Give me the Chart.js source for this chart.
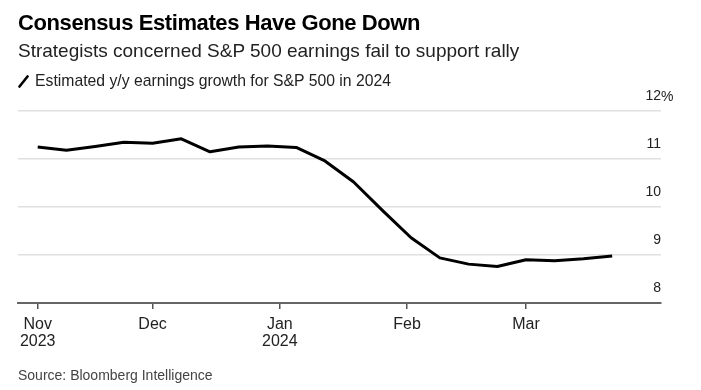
<!DOCTYPE html>
<html>
<head>
<meta charset="utf-8">
<script src="https://cdn.jsdelivr.net/npm/chart.js@4.4.1/dist/chart.umd.min.js"></script>
<style>
  html, body { margin: 0; padding: 0; background: #fff; }
  #wrap { position: relative; width: 701px; height: 390px; overflow: hidden; font-family: "Liberation Sans", Arial, sans-serif; color: #000; }
  #c { position: absolute; left: 0; top: 0; }
  .t { position: absolute; white-space: nowrap; }
  #title { left: 18px; top: 10px; font-size: 22px; font-weight: bold; line-height: 26px; letter-spacing: -0.4px; }
  #sub { left: 18px; top: 40px; font-size: 19px; line-height: 22px; color: #222; }
  #leg { left: 18px; top: 72px; font-size: 15.75px; line-height: 18px; color: #222; }
  #leg svg { vertical-align: -2px; margin-right: 6px; }
  #src { left: 18px; top: 366px; font-size: 14px; line-height: 18px; color: #444; }
  #pct { left: 661px; top: 87px; font-size: 14px; line-height: 18px; color: #222; }
</style>
</head>
<body>
<div id="wrap">
  <canvas id="c" width="701" height="390"></canvas>
  <div class="t" id="title">Consensus Estimates Have Gone Down</div>
  <div class="t" id="sub">Strategists concerned S&amp;P 500 earnings fail to support rally</div>
  <div class="t" id="leg"><svg width="11" height="13"><line x1="1.5" y1="11.5" x2="9.5" y2="1.5" stroke="#000" stroke-width="2.6" stroke-linecap="round"/></svg>Estimated y/y earnings growth for S&amp;P 500 in 2024</div>
  <div class="t" id="src">Source: Bloomberg Intelligence</div>
  <div class="t" id="pct">%</div>
</div>
<script>
// Days relative to Jan 1, 2024 (weekly Friday readings, Nov 3 2023 .. Mar 22 2024)
const days = [-59, -52, -45, -38, -31, -24, -17, -10, -3, 4, 11, 18, 25, 32, 39, 46, 53, 60, 67, 74, 81];
const growth = [11.25, 11.18, 11.26, 11.35, 11.33, 11.42, 11.15, 11.25, 11.27, 11.24, 10.96, 10.52, 9.93, 9.36, 8.94, 8.81, 8.76, 8.90, 8.88, 8.92, 8.98];
// X tick positions (days from Jan 1, 2024) and labels
const xTickDays = [-59, -31, 0, 31, 60];
const xTickLabels = [["Nov", "2023"], ["Dec"], ["Jan", "2024"], ["Feb"], ["Mar"]];
const yTicks = [8, 9, 10, 11, 12];
const yTickLabels = ["8", "9", "10", "11", "12"];

const points = days.map((d, i) => ({ x: d, y: growth[i] }));

new Chart(document.getElementById('c'), {
  type: 'line',
  data: {
    datasets: [{
      data: points,
      borderColor: '#000',
      borderWidth: 3,
      pointRadius: 0,
      tension: 0,
      borderJoinStyle: 'round',
      borderCapStyle: 'butt'
    }]
  },
  options: {
    responsive: false,
    animation: false,
    layout: { padding: { left: 18, right: 40, top: 111, bottom: 42 } },
    plugins: { legend: { display: false }, tooltip: { enabled: false } },
    scales: {
      x: {
        type: 'linear',
        min: -63.8,
        max: 92.9,
        afterBuildTicks: (axis) => { axis.ticks = xTickDays.map(v => ({ value: v })); },
        afterFit: (s) => { s.height = 45; },
        border: { display: true, color: '#666', width: 2 },
        grid: { drawOnChartArea: false, drawTicks: true, tickLength: 6, tickColor: '#555', lineWidth: 1.5 },
        ticks: {
          autoSkip: false,
          maxRotation: 0,
          padding: 7,
          color: '#222',
          font: { family: '"Liberation Sans", Arial, sans-serif', size: 16, lineHeight: 1.06 },
          callback: (v) => { const i = xTickDays.indexOf(v); return i >= 0 ? xTickLabels[i] : ''; }
        }
      },
      y: {
        position: 'right',
        min: 8,
        max: 12,
        afterBuildTicks: (axis) => { axis.ticks = yTicks.map(v => ({ value: v })); },
        border: { display: false },
        grid: { color: '#e0e0e0', lineWidth: 1.5, drawTicks: false },
        ticks: {
          mirror: true,
          padding: 0,
          labelOffset: -15,
          color: '#222',
          font: { family: '"Liberation Sans", Arial, sans-serif', size: 14 },
          callback: (v) => { const i = yTicks.indexOf(v); return i >= 0 ? yTickLabels[i] : ''; }
        }
      }
    }
  }
});
</script>
</body>
</html>
